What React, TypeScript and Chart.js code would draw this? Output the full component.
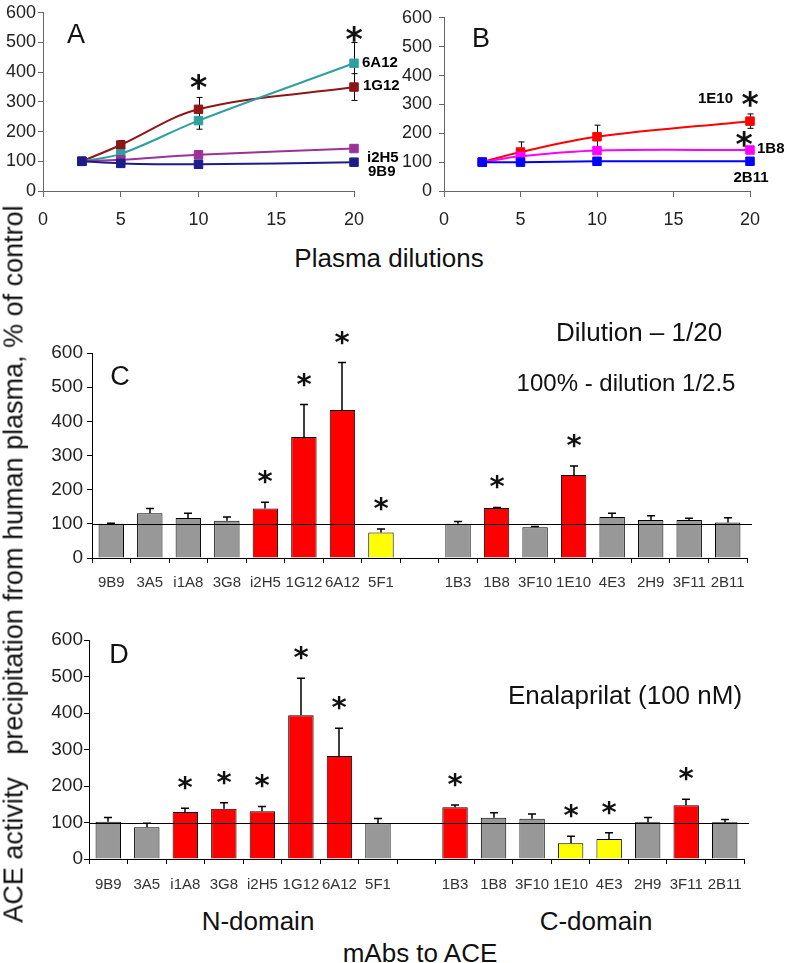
import React, { useEffect, useRef } from "react";
import { Chart, registerables } from "chart.js";

Chart.register(...registerables);

const FONT = "'Liberation Sans', Arial, Helvetica, sans-serif";

// ---------- Panels A & B (line charts) ----------
const dilutions = [2.5, 5, 10, 20];
const xTickValuesAB = [0, 5, 10, 15, 20];
const yTickValues = [0, 100, 200, 300, 400, 500, 600];

const a6A12 = [100, 125, 237, 430];
const a6A12Err = [0, 0, 29, 70];
const a1G12 = [100, 155, 275, 350];
const a1G12Err = [0, 15, 40, 45];
const aI2H5 = [100, 105, 122, 143];
const aI2H5Err = [0, 0, 0, 0];
const a9B9 = [100, 93, 90, 97];
const a9B9Err = [0, 0, 0, 0];
const starsA = [[10, 366], [20, 530]];

const b1E10 = [100, 135, 188, 242];
const b1E10Err = [0, 35, 40, 25];
const b1B8 = [100, 120, 140, 142];
const b1B8Err = [0, 0, 0, 0];
const b2B11 = [100, 100, 103, 103];
const b2B11Err = [0, 0, 10, 0];
const starsB = [[20, 320], [19.6, 180]];

// ---------- Panels C & D (bar charts) ----------
const mAbLabels = ["9B9", "3A5", "i1A8", "3G8", "i2H5", "1G12", "6A12", "5F1", "",
  "1B3", "1B8", "3F10", "1E10", "4E3", "2H9", "3F11", "2B11"];

const cValues = [100, 131, 117, 109, 145, 354, 433, 75, null, 100, 146, 90, 243, 120, 111, 111, 104];
const cErrors = [2, 14, 14, 11, 18, 95, 139, 10, 0, 7, 2, 2, 26, 11, 13, 5, 14];
const cGroups = ["ns", "ns", "ns", "ns", "up", "up", "up", "down", "",
  "ns", "up", "ns", "up", "ns", "ns", "ns", "ns"];

const dValues = [102, 87, 129, 138, 131, 394, 282, 98, null, 142, 113, 110, 43, 55, 101, 147, 101];
const dErrors = [12, 11, 10, 16, 13, 101, 76, 13, 0, 6, 14, 13, 19, 17, 13, 17, 7];
const dGroups = ["ns", "ns", "up", "up", "up", "up", "up", "ns", "",
  "up", "ns", "ns", "down", "down", "ns", "up", "ns"];

const controlLevel = 100;

const GROUP_COLOR: Record<string, string> = {
  ns: "#989898",
  up: "#ff0000",
  down: "#ffff00",
  "": "#ffffff",
};

function drawStar(ctx: CanvasRenderingContext2D, cx: number, cy: number, size: number) {
  ctx.save();
  ctx.font = `bold ${size}px 'DejaVu Sans', sans-serif`;
  ctx.textAlign = "center";
  ctx.textBaseline = "alphabetic";
  ctx.fillStyle = "#111";
  const m = ctx.measureText("*");
  const base = cy + (m.actualBoundingBoxAscent - m.actualBoundingBoxDescent) / 2;
  const off = (m.actualBoundingBoxLeft - m.actualBoundingBoxRight) / 2;
  ctx.fillText("*", cx + off, base);
  ctx.restore();
}

type Series = {
  name: string;
  values: number[];
  errors: number[];
  color: string;
  label: { dx: number; dy: number; align: CanvasTextAlign };
};

function linePlugin(series: Series[], stars: number[][]) {
  return {
    id: "lineExtras",
    beforeDatasetsDraw(chart: any) {
      const { ctx, scales } = chart;
      const x = scales.x, y = scales.y;
      ctx.save();
      ctx.strokeStyle = "#000";
      ctx.lineWidth = 1;
      series.forEach((s) =>
        s.errors.forEach((e, i) => {
          if (!e) return;
          const px = Math.round(x.getPixelForValue(dilutions[i])) + 0.5;
          const top = y.getPixelForValue(s.values[i] + e);
          const bot = y.getPixelForValue(s.values[i] - e);
          ctx.beginPath();
          ctx.moveTo(px, top);
          ctx.lineTo(px, bot);
          ctx.moveTo(px - 3, top);
          ctx.lineTo(px + 3, top);
          ctx.moveTo(px - 3, bot);
          ctx.lineTo(px + 3, bot);
          ctx.stroke();
        })
      );
      ctx.restore();
    },
    afterDatasetsDraw(chart: any) {
      const { ctx, scales } = chart;
      const x = scales.x, y = scales.y;
      ctx.save();
      ctx.font = `bold 15px ${FONT}`;
      ctx.fillStyle = "#000";
      ctx.textBaseline = "middle";
      series.forEach((s) => {
        const n = s.values.length - 1;
        const px = x.getPixelForValue(dilutions[n]);
        const py = y.getPixelForValue(s.values[n]);
        ctx.textAlign = s.label.align;
        ctx.fillText(s.name, px + s.label.dx, py + s.label.dy);
      });
      ctx.restore();
      stars.forEach(([sx, sy]) => drawStar(ctx, x.getPixelForValue(sx), y.getPixelForValue(sy), 33));
    },
  };
}

function barPlugin(values: (number | null)[], errors: number[], groups: string[]) {
  return {
    id: "barExtras",
    afterDatasetsDraw(chart: any) {
      const { ctx, scales, chartArea } = chart;
      const y = scales.y;
      const meta = chart.getDatasetMeta(0);
      const ly = Math.round(y.getPixelForValue(controlLevel)) + 0.5;
      ctx.save();
      ctx.strokeStyle = "#000";
      ctx.lineWidth = 1;
      ctx.beginPath();
      ctx.moveTo(chartArea.left, ly);
      ctx.lineTo(chartArea.right + 5, ly);
      ctx.stroke();
      ctx.lineWidth = 1.5;
      values.forEach((v, i) => {
        if (v == null) return;
        const e = errors[i];
        const px = Math.round(meta.data[i].x);
        const top = y.getPixelForValue(v);
        const et = y.getPixelForValue(v + e);
        if (e > 0) {
          ctx.beginPath();
          ctx.moveTo(px, top);
          ctx.lineTo(px, et);
          ctx.moveTo(px - 4, et);
          ctx.lineTo(px + 4, et);
          ctx.stroke();
        }
        if (groups[i] !== "ns") drawStar(ctx, px, et - 25, 29);
      });
      ctx.restore();
    },
  };
}

function makeLineConfig(series: Series[], stars: number[][], o: any) {
  const axisColor = "#666";
  return {
    type: "line",
    data: {
      datasets: series.map((s) => ({
        label: s.name,
        data: s.values.map((v, i) => ({ x: dilutions[i], y: v })),
        borderColor: s.color,
        backgroundColor: s.color,
        pointBackgroundColor: s.color,
        pointBorderColor: s.color,
        pointStyle: "rect",
        pointRadius: 6,
        pointBorderWidth: 1,
        borderWidth: 2,
        tension: 0.35,
        clip: false,
      })),
    },
    options: {
      animation: false,
      responsive: false,
      events: [],
      layout: { padding: { left: 0, top: o.padTop, right: o.padRight, bottom: o.padBottom } },
      plugins: { legend: { display: false }, tooltip: { enabled: false } },
      scales: {
        x: {
          type: "linear",
          min: 0,
          max: 20,
          afterBuildTicks: (s: any) => { s.ticks = xTickValuesAB.map((v) => ({ value: v })); },
          grid: { drawOnChartArea: false, drawTicks: true, tickLength: 6, color: axisColor },
          border: { display: true, color: axisColor, width: 1 },
          ticks: { padding: 12, color: "#222", font: { family: FONT, size: 18 }, maxRotation: 0 },
          afterFit: (s: any) => { s.height = 40; },
        },
        y: {
          min: 0,
          max: 600,
          afterBuildTicks: (s: any) => { s.ticks = yTickValues.map((v) => ({ value: v })); },
          grid: { drawOnChartArea: false, drawTicks: true, tickLength: 5, color: axisColor },
          border: { display: true, color: axisColor, width: 1 },
          ticks: { padding: o.yPad, color: "#222", font: { family: FONT, size: 18 } },
          afterFit: (s: any) => { s.width = o.yWidth; },
        },
      },
    },
    plugins: [linePlugin(series, stars)],
  };
}

function makeBarConfig(labels: string[], values: (number | null)[], errors: number[], groups: string[], o: any) {
  return {
    type: "bar",
    data: {
      labels,
      datasets: [
        {
          data: values,
          backgroundColor: groups.map((g) => GROUP_COLOR[g]),
          borderColor: "#000",
          borderWidth: 1,
          categoryPercentage: 0.66,
          barPercentage: 1,
        },
      ],
    },
    options: {
      animation: false,
      responsive: false,
      events: [],
      layout: { padding: { left: 0, top: o.padTop, right: o.padRight, bottom: o.padBottom } },
      plugins: { legend: { display: false }, tooltip: { enabled: false } },
      scales: {
        x: {
          grid: { offset: true, drawOnChartArea: false, drawTicks: true, tickLength: 5, color: "#000" },
          border: { display: true, color: "#000", width: 1 },
          ticks: {
            autoSkip: false,
            maxRotation: 0,
            minRotation: 0,
            padding: o.xPad,
            color: "#333",
            font: { family: FONT, size: 15 },
          },
          afterFit: (s: any) => { s.height = o.xHeight; },
        },
        y: {
          min: 0,
          max: 600,
          afterBuildTicks: (s: any) => { s.ticks = yTickValues.map((v) => ({ value: v })); },
          grid: { drawOnChartArea: false, drawTicks: true, tickLength: 5, color: "#000" },
          border: { display: true, color: "#000", width: 1 },
          ticks: { padding: o.yPad, color: "#222", font: { family: FONT, size: 19 } },
          afterFit: (s: any) => { s.width = o.yWidth; },
        },
      },
    },
    plugins: [barPlugin(values, errors, groups)],
  };
}

function ChartBox({ left, top, width, height, config }: any) {
  const ref = useRef<HTMLCanvasElement>(null);
  useEffect(() => {
    if (!ref.current) return;
    const chart = new Chart(ref.current, config());
    return () => chart.destroy();
  }, []);
  return (
    <canvas
      ref={ref}
      width={width}
      height={height}
      style={{ position: "absolute", left, top, width, height }}
    />
  );
}

function Label({ x, y, size, children, rotate }: any) {
  return (
    <div
      style={{
        position: "absolute",
        left: x,
        top: y,
        transform: `translate(-50%, -50%)${rotate ? " rotate(-90deg)" : ""}`,
        fontFamily: FONT,
        fontSize: size,
        lineHeight: 1,
        whiteSpace: "pre",
        color: "#111",
      }}
    >
      {children}
    </div>
  );
}

const seriesA: Series[] = [
  { name: "9B9", values: a9B9, errors: a9B9Err, color: "#1c1c8a", label: { dx: 14, dy: 10, align: "left" } },
  { name: "i2H5", values: aI2H5, errors: aI2H5Err, color: "#993399", label: { dx: 13, dy: 9, align: "left" } },
  { name: "6A12", values: a6A12, errors: a6A12Err, color: "#2fa0a0", label: { dx: 8, dy: 0, align: "left" } },
  { name: "1G12", values: a1G12, errors: a1G12Err, color: "#8e1616", label: { dx: 9, dy: -1, align: "left" } },
];

const seriesB: Series[] = [
  { name: "2B11", values: b2B11, errors: b2B11Err, color: "#0000ff", label: { dx: 1, dy: 17, align: "center" } },
  { name: "1B8", values: b1B8, errors: b1B8Err, color: "#ff00ff", label: { dx: 7, dy: -1, align: "left" } },
  { name: "1E10", values: b1E10, errors: b1E10Err, color: "#ff0000", label: { dx: -17, dy: -22, align: "right" } },
];

export default function App() {
  return (
    <div style={{ position: "absolute", left: 0, top: 0, width: 787, height: 963, overflow: "hidden", background: "#fff" }}>
      <ChartBox
        left={0}
        top={0}
        width={400}
        height={240}
        config={() => makeLineConfig(seriesA, starsA, { padTop: 9, padRight: 46, padBottom: 9, yWidth: 43, yPad: 2 })}
      />
      <ChartBox
        left={395}
        top={0}
        width={392}
        height={240}
        config={() => makeLineConfig(seriesB, starsB, { padTop: 15, padRight: 37, padBottom: 9, yWidth: 49, yPad: 7 })}
      />
      <ChartBox
        left={0}
        top={320}
        width={787}
        height={290}
        config={() => makeBarConfig(mAbLabels, cValues, cErrors, cGroups, { padTop: 33, padRight: 40, padBottom: 12, xHeight: 40, xPad: 11, yWidth: 92, yPad: 4 })}
      />
      <ChartBox
        left={0}
        top={615}
        width={787}
        height={285}
        config={() => makeBarConfig(mAbLabels, dValues, dErrors, dGroups, { padTop: 25, padRight: 43, padBottom: 5, xHeight: 36, xPad: 12, yWidth: 89, yPad: 1 })}
      />

      <Label x={76} y={34} size={27}>A</Label>
      <Label x={481} y={38} size={27}>B</Label>
      <Label x={120} y={376} size={27}>C</Label>
      <Label x={119} y={654} size={27}>D</Label>

      <Label x={389} y={258} size={26}>Plasma dilutions</Label>
      <Label x={639} y={332} size={26}>Dilution – 1/20</Label>
      <Label x={626} y={383} size={24}>100% - dilution 1/2.5</Label>
      <Label x={625} y={695} size={26}>Enalaprilat (100 nM)</Label>
      <Label x={258} y={921} size={26}>N-domain</Label>
      <Label x={596} y={921} size={26}>C-domain</Label>
      <Label x={420} y={953} size={26}>mAbs to ACE</Label>
      <Label x={14} y={564} size={27} rotate>{"ACE activity   precipitation from human plasma, % of control"}</Label>
    </div>
  );
}
